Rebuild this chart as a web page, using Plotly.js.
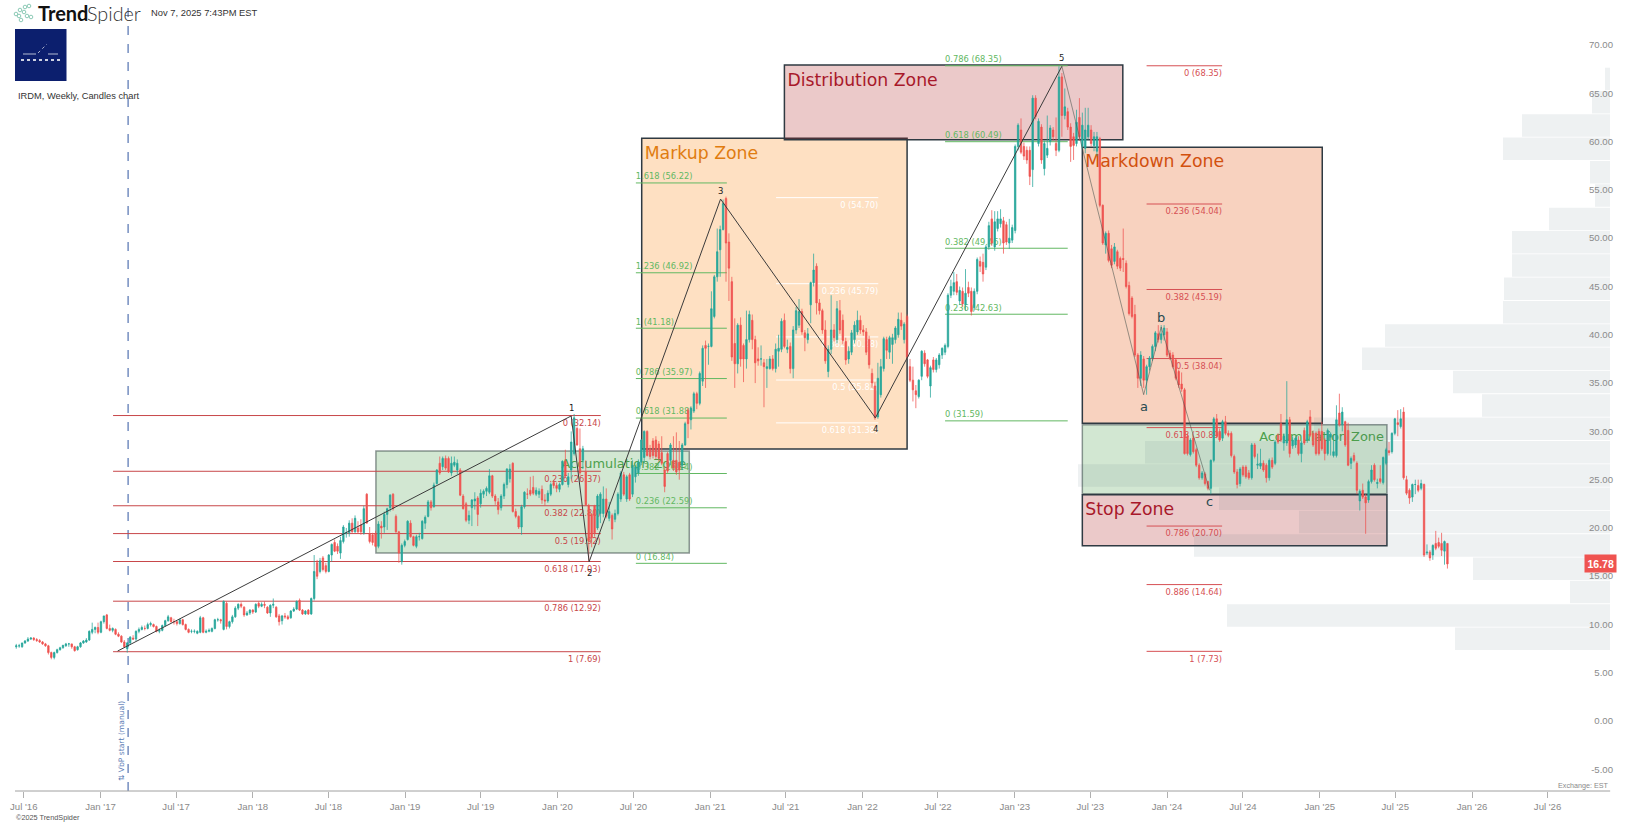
<!DOCTYPE html>
<html>
<head>
<meta charset="utf-8">
<script src="https://cdn.plot.ly/plotly-3.0.1.min.js"></script>
<style>html,body{margin:0;padding:0;background:#fff}#chart{width:1635px;height:824px}</style>
</head>
<body>
<div id="chart"></div>
<script>
// Weekly candles, rows of [open, high, low, close], one array per calendar year
const firstWeek = '2016-06-13';
const candles2016 = [[8.2,8.5,8.0,8.3],[8.3,8.5,8.1,8.3],[8.2,8.6,8.1,8.6],[8.6,8.9,8.5,8.8],[8.8,9.2,8.7,9.0],[9.0,9.2,8.9,9.1],[9.1,9.2,8.8,8.95],[8.95,9.1,8.7,8.85],[8.85,9.0,8.6,8.7],[8.7,8.8,8.4,8.5],[8.5,8.6,8.2,8.3],[8.3,8.4,7.4,7.6],[7.6,7.7,6.9,7.1],[7.1,7.7,6.9,7.6],[7.6,8.0,7.5,7.9],[7.9,8.2,7.8,8.1],[8.1,8.4,8.0,8.35],[8.3,8.6,8.2,8.5],[8.5,8.6,8.2,8.5],[8.5,8.5,8.0,8.2],[8.2,8.3,7.7,7.8],[7.9,8.3,7.8,8.2],[8.2,8.7,8.1,8.6],[8.6,8.9,8.5,8.8],[8.7,9.1,8.6,8.9],[8.9,9.9,8.8,9.8],[9.7,10.7,9.5,10.0],[10.0,10.3,9.6,10.2],[10.2,10.7,9.5,9.7]];
const candles2017 = [[9.7,10.9,9.6,10.8],[10.8,11.4,10.6,11.4],[11.5,11.6,10.0,10.1],[10.1,10.5,9.8,9.9],[9.9,10.2,9.7,10.1],[10.0,10.1,9.4,9.5],[9.5,9.7,9.2,9.3],[9.3,9.4,8.6,8.7],[8.7,8.9,8.1,8.2],[8.0,8.7,7.6,8.6],[8.6,9.3,8.4,9.2],[9.1,9.4,8.9,9.0],[9.0,9.9,8.8,9.8],[9.8,10.2,9.6,10.0],[10.0,10.4,9.9,10.2],[10.1,10.4,9.9,10.1],[10.1,10.7,10.0,10.5],[10.5,10.8,10.3,10.6],[10.5,10.6,10.2,10.3],[10.3,10.4,9.7,9.8],[9.8,10.1,9.6,9.9],[9.9,10.5,9.8,10.4],[10.4,11.0,10.3,10.9],[10.9,11.5,10.8,11.3],[11.2,11.3,10.7,10.8],[10.8,11.1,10.5,10.8],[10.8,10.9,10.4,10.6],[10.6,11.1,10.5,11.0],[11.0,11.1,10.4,10.5],[10.5,10.6,9.9,10.0],[10.0,10.1,9.6,9.7],[9.8,10.0,9.6,9.8],[9.8,10.0,9.6,9.8],[9.6,9.9,9.5,9.8],[9.7,11.4,9.6,11.2],[11.2,11.3,9.6,9.7],[9.7,10.0,9.6,9.8],[9.8,10.1,9.7,9.9],[9.8,10.2,9.7,10.1],[10.1,11.1,10.0,11.0],[11.0,11.2,10.8,11.0],[11.0,11.1,10.6,10.9],[10.0,13.0,9.9,12.9],[12.7,12.9,10.0,10.3],[10.3,10.9,10.1,10.8],[10.8,11.5,10.6,11.3],[11.3,12.4,11.2,12.2],[12.2,12.7,12.0,12.6],[12.6,12.8,12.2,12.4],[12.3,12.4,11.3,11.5],[11.5,11.9,11.4,11.7],[11.7,12.1,11.5,12.0]];
const candles2018 = [[12.0,12.1,11.6,11.8],[11.8,12.7,11.7,12.6],[12.7,12.9,12.2,12.4],[12.4,12.8,12.3,12.6],[12.6,12.9,12.2,12.5],[12.3,12.4,11.6,11.7],[11.7,12.6,11.3,12.5],[12.5,13.2,12.2,12.6],[12.3,12.4,11.2,11.3],[11.4,11.6,10.4,10.8],[10.9,11.5,10.5,11.4],[11.4,11.7,11.1,11.3],[11.3,11.5,11.0,11.1],[11.2,12.0,11.1,11.9],[11.9,12.3,11.8,12.1],[12.1,13.0,12.0,12.9],[13.0,13.2,11.9,12.0],[12.0,12.1,11.5,11.6],[11.6,12.0,11.5,11.9],[12.0,12.1,11.5,11.6],[11.6,13.3,11.5,13.2],[13.2,17.7,13.0,16.0],[16.9,17.2,15.2,15.5],[16.0,17.4,15.8,17.1],[17.4,17.6,16.0,16.2],[16.6,16.9,15.8,16.0],[16.0,17.8,15.9,17.7],[17.7,18.9,17.0,18.8],[19.0,19.3,18.0,18.1],[18.6,18.9,17.8,18.1],[17.9,19.6,17.3,19.2],[19.1,20.8,18.9,20.6],[19.9,20.5,19.5,20.0],[20.0,21.3,19.6,21.0],[21.0,21.5,20.0,20.1],[20.1,21.8,20.0,21.5],[20.5,21.2,19.9,20.1],[20.8,21.4,19.8,20.1],[20.0,22.8,19.8,22.5],[24.0,24.1,21.0,21.0],[19.9,20.6,18.9,19.1],[19.8,20.0,18.7,19.0],[19.9,20.2,18.5,18.6],[18.6,21.2,18.4,20.9],[20.7,21.2,19.4,20.5],[20.6,22.2,20.0,21.9],[21.9,22.6,20.3,22.5],[22.6,24.0,22.2,23.9],[24.0,24.1,22.3,22.5],[21.7,21.9,20.0,20.1],[20.1,20.2,16.9,17.9],[17.0,18.9,16.7,18.7],[18.7,19.3,18.5,19.1]];
const candles2019 = [[19.3,21.3,19.2,21.2],[21.0,21.3,19.5,19.6],[19.6,19.7,18.6,18.7],[18.6,19.8,18.4,19.6],[19.6,20.0,19.2,19.6],[19.4,21.3,19.3,21.2],[21.0,21.8,20.4,21.6],[21.7,23.4,21.6,23.2],[23.2,23.4,22.3,22.6],[22.7,25.2,22.6,24.95],[25.1,26.6,25.0,26.5],[27.2,27.9,26.0,26.2],[26.85,27.9,26.5,27.7],[27.7,28.0,26.5,26.7],[27.7,27.9,26.2,26.3],[26.2,27.9,25.9,27.2],[27.0,27.9,26.8,27.3],[26.5,27.6,26.1,27.2],[26.5,26.7,23.8,23.9],[23.8,24.0,22.4,22.5],[23.0,23.2,21.1,21.3],[21.3,22.3,20.9,21.8],[22.6,23.5,20.7,23.4],[23.3,24.2,22.4,23.5],[23.6,23.8,20.7,21.9],[23.0,24.5,22.6,24.1],[24.0,24.5,23.6,24.3],[24.3,24.8,23.8,24.6],[24.2,26.6,24.0,25.9],[25.9,26.0,23.6,23.8],[23.8,24.0,22.9,23.3],[23.2,23.6,21.9,22.4],[22.6,24.0,22.3,23.8],[23.8,25.2,23.5,25.0],[25.0,26.7,24.6,26.6],[25.6,27.1,25.2,26.6],[27.2,27.3,22.1,22.2],[22.2,22.5,21.5,21.7],[21.7,21.8,20.4,20.6],[20.6,22.9,19.8,22.7],[22.7,24.3,22.5,24.2],[24.0,24.6,23.5,24.0],[24.4,25.8,23.8,24.0],[24.7,25.9,23.9,24.1],[24.0,24.7,23.8,24.4],[24.0,24.6,23.6,24.3],[24.5,24.9,23.0,23.4],[23.4,24.0,22.8,23.3],[23.3,24.4,23.1,24.1],[24.0,25.2,23.8,25.0],[25.2,25.4,24.6,24.9],[24.9,25.2,24.2,24.6]];
const candles2020 = [[24.5,25.2,24.2,25.0],[25.0,27.5,24.9,27.4],[27.4,28.6,25.7,25.9],[25.0,26.2,24.7,25.8],[26.5,30.5,25.6,29.4],[28.2,32.3,28.0,31.9],[30.8,31.0,29.0,29.1],[28.7,30.8,26.0,26.2],[27.5,29.0,26.6,28.7],[26.3,27.5,22.8,22.9],[22.8,23.0,17.1,19.2],[21.9,22.0,18.5,19.5],[22.8,22.9,19.6,20.0],[20.5,24.0,20.3,23.8],[22.0,24.2,21.0,24.0],[22.0,24.8,21.6,23.5],[23.5,24.6,21.5,21.7],[21.5,23.2,21.2,22.2],[21.8,22.0,19.3,20.4],[21.4,22.4,21.1,22.0],[22.0,24.2,21.8,24.0],[23.5,26.4,23.2,26.2],[26.0,26.3,23.8,24.0],[23.5,26.0,23.2,25.8],[26.0,26.2,23.3,23.5],[24.0,27.5,23.7,27.0],[25.8,27.0,25.2,26.8],[26.2,27.6,25.9,27.3],[27.3,29.7,27.0,29.6],[27.8,30.6,27.2,30.5],[30.5,30.6,27.9,28.0],[28.7,29.1,27.6,27.9],[29.5,29.8,27.7,28.0],[29.6,30.0,27.6,27.9],[29.2,29.5,27.4,27.7],[28.3,30.0,27.0,27.2],[26.5,26.9,24.2,24.8],[28.2,28.4,26.2,26.4],[27.5,29.3,27.0,29.1],[27.5,30.0,26.4,26.7],[27.5,30.4,26.0,26.3],[27.3,29.5,25.5,26.5],[27.0,29.3,26.5,29.1],[29.1,31.5,29.0,31.3],[32.7,32.9,29.8,31.3],[31.7,33.1,30.7,32.9],[32.6,34.6,32.4,34.4],[34.4,34.6,32.8,33.4],[33.4,36.7,33.2,36.5],[35.7,39.4,35.2,39.1],[39.4,39.9,35.0,39.1],[39.3,39.6,37.4,39.3]];
const candles2021 = [[39.3,45.0,39.2,43.2],[42.4,46.7,42.2,46.5],[46.5,51.5,46.0,49.1],[49.3,51.8,46.5,51.4],[51.4,54.5,51.3,54.1],[54.6,54.8,46.0,50.0],[50.1,51.0,44.0,47.4],[46.0,46.5,37.8,38.2],[39.6,42.2,35.0,37.5],[37.5,41.7,36.5,41.5],[41.5,42.3,37.2,38.0],[39.4,39.6,35.6,38.0],[38.0,43.0,37.0,40.0],[40.0,43.0,39.7,42.6],[42.0,42.6,39.0,40.0],[40.0,40.4,35.5,37.6],[38.0,39.2,37.3,37.8],[38.0,39.4,37.3,38.0],[37.6,38.0,33.0,37.2],[37.0,38.0,35.0,37.2],[37.0,38.3,36.9,38.0],[38.0,38.4,36.8,37.0],[37.0,39.6,36.6,39.0],[38.8,40.5,37.2,39.1],[39.0,42.2,38.7,41.9],[42.0,42.7,39.1,39.3],[39.0,40.0,38.6,39.2],[39.3,39.7,36.5,37.0],[37.0,41.4,36.0,41.0],[41.0,43.4,40.6,43.0],[41.5,44.2,41.2,42.9],[42.9,43.2,40.5,40.8],[40.7,41.0,38.8,40.2],[40.0,41.2,39.6,40.6],[43.6,46.0,41.7,45.9],[45.9,48.9,45.5,47.2],[47.6,47.9,42.6,43.8],[43.8,44.2,42.6,43.0],[43.0,43.2,40.6,41.0],[41.0,42.0,37.5,37.8],[36.7,39.4,36.1,39.0],[39.0,44.6,38.5,41.0],[41.0,41.6,39.8,40.2],[40.0,44.0,39.6,43.2],[43.0,44.1,40.6,41.0],[42.0,42.6,39.5,39.9],[39.8,40.2,37.4,37.9],[38.0,39.3,37.5,38.8],[38.7,41.0,38.4,40.7],[40.0,41.9,39.6,41.5],[40.8,43.0,40.5,42.0],[42.0,42.5,40.6,41.0]];
const candles2022 = [[41.0,41.5,40.4,40.8],[40.8,41.2,38.4,38.7],[40.0,40.4,37.0,37.4],[36.5,37.0,35.0,35.5],[35.2,35.6,31.7,31.9],[32.0,37.6,31.8,36.0],[34.3,38.0,34.0,37.2],[37.0,40.3,36.7,40.1],[40.0,40.3,38.0,38.9],[38.7,40.4,38.0,40.2],[39.5,40.6,37.5,40.2],[40.0,41.4,39.6,41.2],[40.5,42.8,40.2,42.1],[42.0,42.8,41.0,41.4],[40.0,41.8,39.6,41.6],[42.4,42.6,38.0,38.2],[37.2,38.0,35.6,35.8],[35.8,37.2,33.6,34.8],[34.7,35.3,32.9,34.3],[34.1,35.9,33.9,35.8],[36.2,38.9,35.8,38.8],[38.6,38.9,37.2,37.5],[37.9,38.0,36.0,36.2],[35.2,37.3,34.0,37.1],[37.9,38.2,36.6,36.9],[36.9,38.1,36.6,37.9],[37.4,38.6,37.0,38.4],[38.4,39.2,38.0,39.1],[38.7,39.6,38.4,39.4],[39.3,44.8,39.1,44.6],[44.6,46.2,44.3,45.5],[45.0,47.0,44.6,45.9],[46.0,46.8,44.6,44.9],[44.0,45.5,43.6,45.1],[45.0,45.4,43.4,43.7],[43.6,47.3,43.0,44.8],[45.4,46.0,44.4,44.8],[45.0,45.4,42.5,42.9],[43.3,45.3,43.0,45.0],[45.0,48.5,44.7,48.3],[48.1,48.6,47.0,47.6],[48.0,48.9,46.0,46.8],[47.5,49.8,47.2,49.6],[49.6,52.2,49.3,51.8],[52.5,53.4,49.7,50.0],[49.6,53.3,49.2,52.2],[51.5,53.3,51.2,52.5],[52.0,53.5,51.6,52.5],[52.3,52.7,48.9,50.0],[51.9,52.2,49.8,50.1],[50.0,52.5,49.4,50.5],[50.3,51.9,50.0,51.6]];
const candles2023 = [[51.3,60.2,51.0,60.0],[60.0,62.4,59.6,62.2],[61.7,62.9,59.2,59.4],[60.0,60.4,58.6,59.0],[59.6,60.0,58.2,58.6],[59.6,60.0,56.0,56.9],[57.6,65.3,55.8,65.0],[65.0,65.3,62.8,63.1],[60.3,62.9,60.0,62.6],[62.0,62.3,58.2,58.6],[57.7,60.6,57.0,60.3],[59.1,63.2,58.8,59.8],[60.5,62.2,60.1,61.9],[61.7,62.0,60.6,61.0],[60.3,63.0,59.0,59.6],[59.6,68.3,59.4,67.2],[67.2,67.6,61.0,63.2],[63.2,66.0,62.8,64.1],[63.6,64.0,61.7,62.0],[62.0,62.4,58.4,60.0],[61.0,61.4,58.6,60.1],[60.3,63.8,60.0,62.5],[63.0,65.0,60.6,61.0],[60.0,63.5,59.7,62.2],[59.8,64.0,59.3,61.7],[61.0,64.0,60.7,62.2],[61.7,62.2,60.0,60.3],[60.1,61.5,59.5,61.0],[59.5,61.5,59.0,61.0],[60.8,61.0,53.7,53.9],[53.9,54.0,49.8,50.0],[49.8,51.2,48.9,51.0],[51.0,51.3,48.0,48.2],[49.4,49.8,47.4,47.7],[48.1,50.0,47.8,49.6],[49.1,49.3,47.3,47.6],[48.4,48.6,47.1,47.4],[48.4,51.5,47.0,48.3],[47.9,48.2,45.3,45.5],[45.6,46.0,42.5,42.7],[44.3,44.5,42.2,42.4],[42.6,43.6,38.2,38.4],[38.4,38.6,35.0,36.0],[36.0,38.8,35.2,38.4],[38.0,38.3,35.0,35.8],[35.8,37.4,34.3,37.2],[37.2,38.3,36.8,38.1],[38.1,39.5,37.8,39.3],[39.3,40.9,38.8,40.7],[40.6,41.5,39.7,40.0],[40.0,41.5,39.6,40.6],[40.5,41.5,39.9,41.2]];
const candles2024 = [[40.8,41.2,38.2,38.4],[38.6,38.9,37.9,38.1],[38.4,38.7,37.0,37.2],[37.9,38.1,35.8,36.0],[36.7,36.9,35.0,35.3],[35.4,36.6,34.6,34.9],[34.8,35.0,28.1,28.2],[30.0,30.3,28.0,28.2],[28.1,29.8,27.9,29.6],[29.8,30.0,28.2,28.4],[28.6,28.8,26.8,27.0],[27.0,27.2,25.5,25.7],[25.7,26.4,25.5,26.2],[26.1,26.3,24.9,25.1],[25.3,25.4,24.4,24.6],[24.6,27.6,24.0,27.5],[27.5,32.0,27.3,31.8],[31.8,32.3,29.8,30.0],[30.5,30.8,29.4,29.6],[29.8,31.7,29.5,31.5],[31.5,32.1,30.1,30.3],[30.3,30.6,29.9,30.1],[30.3,30.5,27.8,28.0],[27.9,28.1,26.1,26.3],[26.3,26.6,24.6,25.0],[25.1,26.8,24.8,26.6],[26.8,27.0,25.8,26.0],[26.8,27.0,25.6,25.8],[26.2,26.5,25.5,25.7],[25.7,29.3,25.5,29.1],[29.1,29.3,27.7,27.9],[27.0,28.2,26.6,27.1],[26.9,28.7,26.6,27.2],[27.2,27.5,26.3,26.5],[27.0,27.2,25.2,25.7],[25.7,27.7,25.4,27.5],[27.5,27.8,26.6,26.8],[27.2,29.6,27.0,29.4],[30.1,30.3,29.2,29.4],[31.3,32.3,29.4,29.6],[29.3,30.3,28.5,30.0],[29.3,35.7,29.0,31.7],[31.7,32.0,27.8,28.2],[29.0,29.9,28.7,29.6],[29.1,30.0,28.8,29.8],[29.6,30.0,28.0,28.2],[28.2,29.5,27.3,29.3],[30.6,30.9,29.1,29.3],[29.6,31.7,29.3,31.5],[32.0,32.7,29.9,30.1],[30.3,30.6,28.9,29.1],[30.3,30.5,28.0,28.2],[30.5,30.8,28.0,28.2]];
const candles2025 = [[30.5,31.5,28.5,28.7],[29.6,29.8,27.5,28.2],[28.2,30.8,28.0,30.6],[29.9,30.4,28.0,30.2],[28.0,30.2,27.8,28.4],[28.0,33.2,27.8,31.7],[32.4,34.4,31.0,31.2],[31.2,33.0,30.5,32.5],[31.5,31.6,28.9,29.1],[30.6,31.4,26.9,27.0],[27.2,27.9,26.6,27.7],[28.0,28.3,27.3,27.5],[27.2,27.4,24.0,24.4],[23.3,24.5,22.3,24.3],[24.4,25.1,23.5,23.7],[23.7,24.0,19.9,23.1],[23.4,25.5,23.1,25.3],[25.3,27.0,25.1,26.5],[27.0,27.2,25.3,25.5],[25.1,25.6,24.6,25.2],[25.6,27.0,25.1,25.3],[25.2,27.9,25.0,27.8],[27.2,28.8,27.0,28.6],[28.5,29.4,28.0,28.3],[28.4,30.4,28.2,30.3],[30.3,31.9,30.1,31.8],[31.4,32.7,30.0,31.2],[31.0,32.8,30.8,31.8],[32.5,33.0,25.5,25.7],[25.5,25.9,23.9,24.1],[24.4,24.6,23.0,23.6],[23.7,25.1,23.2,25.0],[25.0,25.5,24.0,25.0],[24.9,25.5,24.2,24.4],[24.6,25.5,24.4,25.1],[25.0,25.1,17.5,17.7],[17.9,18.8,17.7,18.0],[18.0,18.2,17.1,17.4],[17.7,18.8,17.2,18.7],[18.9,20.2,18.2,18.4],[19.0,19.5,18.4,18.6],[18.9,20.0,17.6,18.2],[18.1,19.2,16.7,19.1],[18.9,18.9,16.3,16.78]];

const monthTicks = ['2016-07-01','2017-01-01','2017-07-01','2018-01-01','2018-07-01','2019-01-01','2019-07-01','2020-01-01','2020-07-01','2021-01-01','2021-07-01','2022-01-01','2022-07-01','2023-01-01','2023-07-01','2024-01-01','2024-07-01','2025-01-01','2025-07-01','2026-01-01','2026-07-01'];
const monthLabels = ["Jul '16","Jan '17","Jul '17","Jan '18","Jul '18","Jan '19","Jul '19","Jan '20","Jul '20","Jan '21","Jul '21","Jan '22","Jul '22","Jan '23","Jul '23","Jan '24","Jul '24","Jan '25","Jul '25","Jan '26","Jul '26"];
const priceTicks = [-5,0,5,10,15,20,25,30,35,40,45,50,55,60,65,70];

// Volume-by-price profile: bin centre price and relative volume
const vbpPrice = [66.99,64.58,62.16,59.75,57.33,54.92,52.5,50.09,47.67,45.26,42.84,40.43,38.01,35.6,33.18,30.77,28.35,25.94,23.52,21.11,18.69,16.28,13.86,11.45,9.03];
const vbpVolume = [5,18,88,107,20,15,61,98,98,106,107,225,248,157,128,296,465,532,391,311,416,137,40,383,155];

// Zones
const zoneNames = ['Accumulation Zone','Markup Zone','Distribution Zone','Markdown Zone','Accumulation Zone','Stop Zone'];
const zoneStart = ['2018-10-23','2020-07-21','2021-06-28','2023-06-12','2023-06-12','2023-06-12'];
const zoneEnd = ['2020-11-12','2022-04-18','2023-09-17','2025-01-07','2025-06-11','2025-06-11'];
const zoneTop = [28.47,60.84,68.43,59.91,31.19,23.94];
const zoneBottom = [17.91,28.67,60.69,31.33,24.05,18.66];
const zoneFill = ['rgba(60,150,60,.23)','rgba(250,140,30,.27)','rgba(170,30,30,.24)','rgba(230,90,20,.27)','rgba(60,150,60,.23)','rgba(170,30,30,.24)'];
const zoneBorder = ['rgba(55,70,70,.55)','#2f3a42','#2f3a42','#2f3a42','rgba(55,70,70,.55)','#2f3a42'];
const zoneText = ['#4c9f4c','#e07c10','#a8182a','#d2500e','#4c9f4c','#a8182a'];
const zoneTextSize = [12.9,17.3,17.3,17.3,12.9,17.3];
const zoneTextPos = ['top right','top left','top left','top left','top right','top left'];
const zoneTextDrop = [0.38,0.32,0.42,0.22,0.32,0.32];

// Fibonacci level sets
const fibRedALabels = ['0 (32.14)','0.236 (26.37)','0.382 (22.80)','0.5 (19.92)','0.618 (17.03)','0.786 (12.92)','1 (7.69)'];
const fibRedAValues = [32.14,26.37,22.80,19.92,17.03,12.92,7.69];
const fibGreenALabels = ['1.618 (56.22)','1.236 (46.92)','1 (41.18)','0.786 (35.97)','0.618 (31.88)','0.382 (26.14)','0.236 (22.59)','0 (16.84)'];
const fibGreenAValues = [56.22,46.92,41.18,35.97,31.88,26.14,22.59,16.84];
const fibWhiteLabels = ['0 (54.70)','0.236 (45.79)','0.382 (40.28)','0.5 (35.82)','0.618 (31.38)'];
const fibWhiteValues = [54.70,45.79,40.28,35.82,31.38];
const fibGreenBLabels = ['0.786 (68.35)','0.618 (60.49)','0.382 (49.46)','0.236 (42.63)','0 (31.59)'];
const fibGreenBValues = [68.35,60.49,49.46,42.63,31.59];
const fibRedBLabels = ['0 (68.35)','0.236 (54.04)','0.382 (45.19)','0.5 (38.04)','0.618 (30.89)','0.786 (20.70)','0.886 (14.64)','1 (7.73)'];
const fibRedBValues = [68.35,54.04,45.19,38.04,30.89,20.70,14.64,7.73];

// Elliott wave paths and labels
const waveDates = ['2017-02-11','2020-02-03','2020-03-17','2021-01-26','2022-02-01','2023-04-24'];
const wavePrices = [7.76,32.1,17.0,54.55,31.9,68.3];
const waveLabels = ['','1','2','3','4','5'];
const waveShift = [0,8,-11,8,-11,8];
const abcDates = ['2023-04-24','2023-11-06','2023-12-18','2024-04-12'];
const abcPrices = [68.3,34.3,41.3,24.4];
const abcLabels = ['','a','b','c'];
const abcShift = [0,-12,10,-11];

const lastPrice = 16.78;
const vbpStartDate = '2017-03-08';

// Frame in browser pixels, used only to place the header/footer furniture
const W = 1635, H = 824, ML = 15, MR = 19, MT = 0, MB = 33;
const px = v => (v - ML) / (W - ML - MR);
const py = v => 1 - (v - MT) / (H - MT - MB);

const rows = [].concat(candles2016,candles2017,candles2018,candles2019,candles2020,candles2021,candles2022,candles2023,candles2024,candles2025);
const weekDates = rows.map((_, i) => new Date(Date.parse(firstWeek + 'T00:00:00Z') + i * 7 * 86400000).toISOString().slice(0, 10));
const wickUp = 'rgba(38,166,154,.75)', wickDown = 'rgba(239,83,80,.75)';

const traces = [
  {type:'bar', orientation:'h', x:vbpVolume, y:vbpPrice, xaxis:'x', yaxis:'y', width:2.33,
   marker:{color:'rgba(70,100,115,.09)', line:{width:0}}, hoverinfo:'skip', showlegend:false},
  {type:'candlestick', x:weekDates, open:rows.map(r=>r[0]), high:rows.map(r=>r[1]), low:rows.map(r=>r[2]), close:rows.map(r=>r[3]),
   xaxis:'x2', yaxis:'y', whiskerwidth:0, showlegend:false,
   increasing:{line:{color:wickUp,width:1}, fillcolor:'#26a69a'},
   decreasing:{line:{color:wickDown,width:1}, fillcolor:'#ef5350'}},
  {type:'scatter', mode:'lines', x:waveDates, y:wavePrices, xaxis:'x2', yaxis:'y', line:{color:'#3b3b3b',width:1}, hoverinfo:'skip', showlegend:false},
  {type:'scatter', mode:'lines', x:abcDates, y:abcPrices, xaxis:'x2', yaxis:'y', line:{color:'rgba(70,80,75,.55)',width:1}, hoverinfo:'skip', showlegend:false}
];

const shapes = [];
zoneNames.forEach((name,i)=>{
  shapes.push({type:'rect', layer:'below', xref:'x2', yref:'y', x0:zoneStart[i], x1:zoneEnd[i], y0:zoneBottom[i], y1:zoneTop[i],
    fillcolor:zoneFill[i], line:{color:zoneBorder[i], width:1.5}});
  shapes.push({type:'rect', layer:'below', xref:'x2', yref:'y', x0:zoneStart[i], x1:zoneEnd[i], y0:zoneBottom[i], y1:zoneTop[i]-zoneTextDrop[i],
    fillcolor:'rgba(0,0,0,0)', line:{width:0},
    label:{text:name, textposition:zoneTextPos[i], padding:0, font:{family:'DejaVu Sans', size:zoneTextSize[i], color:zoneText[i]}}});
});

function fibLevels(labels, values, x0, x1, color, textColor, above){
  labels.forEach((t,i)=>shapes.push({type:'line', layer:'below', xref:'x2', yref:'y', x0:x0, x1:x1, y0:values[i], y1:values[i],
    line:{color:color, width:1},
    label:{text:t, textposition: above?'start':'end', xanchor: above?'left':'right', yanchor: above?'bottom':'top', padding:2,
      font:{family:'DejaVu Sans', size:8.3, color:textColor}}}));
}
fibLevels(fibRedALabels, fibRedAValues, '2017-01-31','2020-04-14','#c8474a','#c8474a',false);
fibLevels(fibGreenALabels, fibGreenAValues, '2020-07-07','2021-02-10','#62b862','#62b862',true);
fibLevels(fibWhiteLabels, fibWhiteValues, '2021-06-08','2022-02-08','#ffffff','#ffffff',false);
fibLevels(fibGreenBLabels, fibGreenBValues, '2022-07-18','2023-05-08','#62b862','#62b862',true);
fibLevels(fibRedBLabels, fibRedBValues, '2023-11-13','2024-05-12','#d65054','#d65054',false);

shapes.push({type:'line', layer:'below', xref:'x2', yref:'paper', x0:vbpStartDate, x1:vbpStartDate, y0:0, y1:1, line:{color:'#2f55a0',width:1,dash:'dash'}});
shapes.push({type:'line', xref:'x2', yref:'paper', x0:'2016-06-10', x1:'2026-11-28', y0:0, y1:0, line:{color:'#a0a0a0',width:1}});

// Header logo box
shapes.push({type:'rect', xref:'paper', yref:'paper', x0:px(15), x1:px(66.5), y0:py(81), y1:py(29), fillcolor:'#0c1f6e', line:{width:0}});
[[23,36,54],[48,58,54]].forEach(a=>shapes.push({type:'line', xref:'paper', yref:'paper', x0:px(a[0]), x1:px(a[1]), y0:py(a[2]), y1:py(a[2]), line:{color:'#fff',width:0.7}}));
shapes.push({type:'line', xref:'paper', yref:'paper', x0:px(21), x1:px(61), y0:py(60), y1:py(60), line:{color:'rgba(255,255,255,.8)',width:2,dash:'dot'}});
shapes.push({type:'line', xref:'paper', yref:'paper', x0:px(38), x1:px(47), y0:py(53), y1:py(44), line:{color:'rgba(255,255,255,.8)',width:0.8,dash:'dot'}});
// TrendSpider icon dots
[[16,14],[20,10],[25,7],[29,6],[24,12],[27,16],[21,20],[31,17],[19,16]].forEach(d=>shapes.push({type:'circle', xref:'paper', yref:'paper', x0:px(d[0]-1.8), x1:px(d[0]+1.8), y0:py(d[1]+1.8), y1:py(d[1]-1.8), line:{color:'#8ccab6',width:1}, fillcolor:'#ffffff'}));

const note = (text,x,y,o) => Object.assign({text:text, xref:'paper', yref:'paper', x:px(x), y:py(y), showarrow:false, xanchor:'left', yanchor:'middle', borderpad:0}, o);
const annotations = [
  note('Trend',36.5,13,{font:{family:'Lato',size:20,color:'#111',weight:700}}),
  note('Spider',86,13,{font:{family:'Lato',size:19.8,color:'#333',weight:300}}),
  note('Nov 7, 2025 7:43PM EST',150,13,{font:{family:'Liberation Sans',size:9.4,color:'#333'}}),
  note('IRDM, Weekly, Candles chart',16.5,96,{font:{family:'Liberation Sans',size:9.3,color:'#333'}}),
  note('©2025 TrendSpider',14.5,818,{font:{family:'Liberation Sans',size:7.3,color:'#555'}}),
  note('Exchange: EST',1610,785,{xanchor:'right',font:{family:'Liberation Sans',size:7.2,color:'#8a8a8a'}}),
  note('⇅ VbP start (manual)',121,741,{xanchor:'center',textangle:-90,font:{family:'DejaVu Sans',size:7.6,color:'#5b7bb5'}}),
  {text:'<b>'+lastPrice.toFixed(2)+'</b>', xref:'paper', yref:'y', x:px(1600.5), y:lastPrice, showarrow:false, xanchor:'center', yanchor:'middle',
   bgcolor:'#ef5350', borderpad:2.5, font:{family:'Liberation Sans',size:10.5,color:'#fff'}}
];
waveLabels.forEach((t,i)=>{ if(t) annotations.push({text:t, xref:'x2', yref:'y', x:waveDates[i], y:wavePrices[i], yshift:waveShift[i], showarrow:false, font:{family:'DejaVu Sans',size:8.5,color:'#222'}}); });
abcLabels.forEach((t,i)=>{ if(t) annotations.push({text:t, xref:'x2', yref:'y', x:abcDates[i], y:abcPrices[i], yshift:abcShift[i], showarrow:false, font:{family:'DejaVu Sans',size:13,color:'#274a50'}}); });

const layout = {
  width:W, height:H, margin:{l:ML,r:MR,t:MT,b:MB,pad:0}, paper_bgcolor:'#fff', plot_bgcolor:'rgba(0,0,0,0)', showlegend:false, bargap:0.03, hovermode:false,
  xaxis:{visible:false, range:[1595,-6], fixedrange:true},
  xaxis2:{type:'date', overlaying:'x', anchor:'y', side:'bottom', range:['2016-06-10','2026-12-12'], rangeslider:{visible:false},
    tickmode:'array', tickvals:monthTicks, ticktext:monthLabels, ticks:'outside', ticklen:6, tickcolor:'#b0b0b0', tickwidth:1, showgrid:false, zeroline:false, showline:false,
    tickfont:{family:'Liberation Sans',size:9.6,color:'#8a8a8a'}},
  yaxis:{anchor:'x', side:'right', range:[-6.73,75.16], tickmode:'array', tickvals:priceTicks, ticktext:priceTicks.map(v=>v.toFixed(2)), ticks:'', showgrid:false, zeroline:false, showline:false,
    ticklabelposition:'inside', ticklabelshift:-5, tickfont:{family:'Liberation Sans',size:9.6,color:'#8a8a8a'}},
  shapes:shapes, annotations:annotations
};
if(rows.length !== 491) throw new Error('weeks '+rows.length);
Plotly.newPlot('chart', traces, layout, {staticPlot:true, displayModeBar:false});
</script>
</body>
</html>
